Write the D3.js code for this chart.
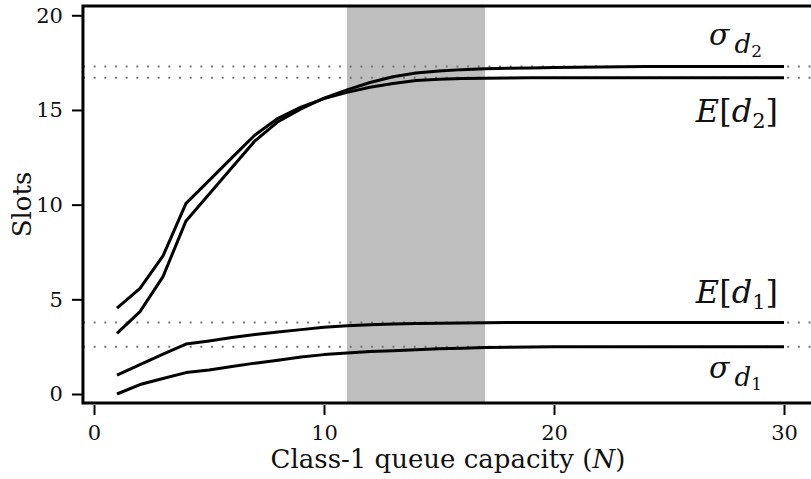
<!DOCTYPE html>
<html>
<head>
<meta charset="utf-8">
<script src="https://cdn.jsdelivr.net/npm/d3@7"></script>
<style>
  html, body { margin: 0; padding: 0; background: #fff; }
  svg { display: block; }
</style>
</head>
<body>
<div id="chart"></div>
<script>
// queue capacity N on the x axis
const capacity = [1, 2, 3, 4, 5, 6, 7, 8, 9, 10, 11, 12, 13, 14, 15,
                  16, 17, 18, 19, 20, 21, 22, 23, 24, 25, 26, 27, 28, 29, 30];
const meanD1 = [1.00, 1.55, 2.10, 2.64, 2.80, 2.98, 3.14, 3.28, 3.40, 3.52, 3.61, 3.66, 3.70, 3.72, 3.74,
                3.75, 3.76, 3.77, 3.77, 3.77, 3.77, 3.77, 3.77, 3.77, 3.77, 3.77, 3.77, 3.77, 3.77, 3.77];
const sdD1 = [0.00, 0.50, 0.82, 1.13, 1.27, 1.45, 1.63, 1.78, 1.95, 2.08, 2.17, 2.24, 2.29, 2.34, 2.39,
              2.42, 2.45, 2.47, 2.48, 2.49, 2.50, 2.50, 2.50, 2.50, 2.50, 2.50, 2.50, 2.50, 2.50, 2.50];
const meanD2 = [4.53, 5.58, 7.29, 10.07, 11.27, 12.48, 13.68, 14.56, 15.15, 15.60, 15.93, 16.20, 16.40, 16.55, 16.62,
                16.66, 16.68, 16.69, 16.70, 16.70, 16.70, 16.70, 16.70, 16.70, 16.70, 16.70, 16.70, 16.70, 16.70, 16.70];
const sdD2 = [3.20, 4.35, 6.20, 9.14, 10.55, 11.96, 13.37, 14.38, 15.05, 15.62, 16.06, 16.45, 16.75, 16.95, 17.06,
              17.13, 17.17, 17.20, 17.22, 17.24, 17.26, 17.27, 17.28, 17.29, 17.29, 17.29, 17.29, 17.29, 17.29, 17.29];
// asymptotic levels (dotted) and the shaded range of N
const limits = [17.29, 16.70, 3.77, 2.50];
const band = [11, 17];
const xTicks = [0, 10, 20, 30];
const yTicks = [0, 5, 10, 15, 20];

const SIZE = { width: 811, height: 479 };
const FONT = "'DejaVu Serif', serif";

const svg = d3.select("#chart").append("svg")
    .attr("width", SIZE.width)
    .attr("height", SIZE.height);

const x = d3.scaleLinear().domain([0, 30]).range([94, 784]);
const y = d3.scaleLinear().domain([-0.475, 20.49]).range([403, 6]);
const xLo = -0.48, xHi = 31.26;

svg.append("defs").append("clipPath").attr("id", "plot-clip")
  .append("rect")
    .attr("x", x(xLo)).attr("y", y.range()[1])
    .attr("width", x(xHi) - x(xLo)).attr("height", y.range()[0] - y.range()[1]);

const plot = svg.append("g").attr("clip-path", "url(#plot-clip)");

plot.append("rect")
    .attr("x", x(band[0]))
    .attr("y", y.range()[1])
    .attr("width", x(band[1]) - x(band[0]))
    .attr("height", y.range()[0] - y.range()[1])
    .attr("fill", "#bebebe");

plot.selectAll(".limit").data(limits).enter().append("line")
    .attr("class", "limit")
    .attr("x1", x(xLo)).attr("x2", x(xHi))
    .attr("y1", d => y(d)).attr("y2", d => y(d))
    .attr("stroke", "#777")
    .attr("stroke-width", 2)
    .attr("stroke-dasharray", "2,8.67");

const line = d3.line().x((d, i) => x(capacity[i])).y(d => y(d));
plot.selectAll(".curve").data([meanD1, sdD1, meanD2, sdD2]).enter().append("path")
    .attr("class", "curve")
    .attr("d", line)
    .attr("fill", "none")
    .attr("stroke", "#000")
    .attr("stroke-width", 3)
    .attr("stroke-linejoin", "round");

// frame
svg.append("rect")
    .attr("x", x(xLo)).attr("y", y.range()[1])
    .attr("width", x(xHi) - x(xLo)).attr("height", y.range()[0] - y.range()[1])
    .attr("fill", "none")
    .attr("stroke", "#000")
    .attr("stroke-width", 3);

const xAxis = d3.axisBottom(x).tickValues(xTicks).tickSize(12).tickPadding(10);
const xG = svg.append("g").attr("transform", `translate(0, ${y.range()[0]})`).call(xAxis);
const yAxis = d3.axisLeft(y).tickValues(yTicks).tickSize(11).tickPadding(9);
const yG = svg.append("g").attr("transform", `translate(${x(xLo)}, 0)`).call(yAxis);

[xG, yG].forEach(g => {
  g.select(".domain").remove();
  g.selectAll(".tick line").attr("stroke", "#000").attr("stroke-width", 2);
  g.selectAll(".tick text")
      .attr("fill", "#111")
      .style("font-family", FONT)
      .style("font-size", "21px");
});
xG.selectAll(".tick line").attr("y1", 2);

svg.append("text")
    .attr("x", (x(xLo) + x(xHi)) / 2)
    .attr("y", 468)
    .attr("text-anchor", "middle")
    .style("font-family", FONT)
    .style("font-size", "26px")
    .attr("fill", "#111")
    .text("Class-1 queue capacity (")
  .append("tspan").style("font-style", "italic").text("N")
  .select(function(){ return this.parentNode; })
  .append("tspan").text(")");

svg.append("text")
    .attr("transform", `translate(31, ${(y.range()[0] + y.range()[1]) / 2}) rotate(-90)`)
    .attr("text-anchor", "middle")
    .style("font-family", FONT)
    .style("font-size", "26px")
    .attr("fill", "#111")
    .text("Slots");

// curve labels
function meanLabel(sub, baseY){
  const t = svg.append("text")
      .attr("x", x(30) - 6)
      .attr("y", baseY)
      .attr("text-anchor", "end")
      .style("font-family", FONT)
      .style("font-size", "32px")
      .attr("fill", "#111");
  t.append("tspan").style("font-style", "italic").text("E");
  t.append("tspan").text("[");
  t.append("tspan").style("font-style", "italic").text("d");
  t.append("tspan").attr("dy", 6).style("font-size", "21px").text(sub);
  t.append("tspan").attr("dy", -6).text("]");
}
function sdLabel(sub, baseY){
  const t = svg.append("text")
      .attr("x", x(30) - 22)
      .attr("y", baseY)
      .attr("text-anchor", "end")
      .style("font-family", FONT)
      .style("font-size", "30px")
      .attr("fill", "#111");
  t.append("tspan").style("font-style", "italic").text("σ");
  t.append("tspan").attr("dx", 5).attr("dy", 8).style("font-style", "italic").style("font-size", "26px").text("d");
  t.append("tspan").attr("dy", 4).style("font-size", "17px").text(sub);
}
sdLabel("2", y(limits[0]) - 22);
meanLabel("2", y(limits[1]) + 44);
meanLabel("1", y(limits[2]) - 20);
sdLabel("1", y(limits[3]) + 31);
</script>
</body>
</html>
